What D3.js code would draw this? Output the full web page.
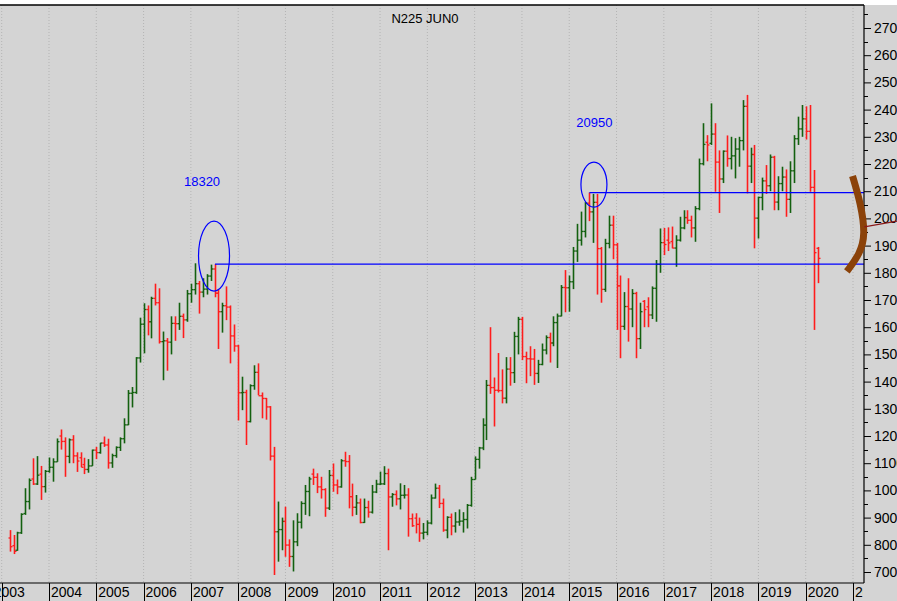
<!DOCTYPE html>
<html>
<head>
<meta charset="utf-8">
<script src="https://cdn.jsdelivr.net/npm/d3@7"></script>
<style>
  body { margin: 0; background: #fff; }
  text { font-family: "Liberation Sans", Arial, sans-serif; }
</style>
</head>
<body>
<div id="chart-area"></div>
<script>
// monthly bars, first bar is March 2003, last one April 2020
var firstYear = 2003, firstMonth = 2;

var open = [
  8250, 7970, 7800, 8440, 9150, 9590, 10420, 10235, 10600, 10140,
  10700, 10850, 11050, 12000, 11800, 11250, 11860, 11270, 11200, 10950, 10770, 10900,
  11480, 11390, 11740, 11670, 11010, 11280, 11580, 11900, 12410, 13570, 13600, 14870,
  16110, 16650, 16200, 17060, 16900, 15470, 15500, 15450, 16140, 16130, 16400, 16270,
  17230, 17380, 17600, 17290, 17400, 17880, 18140, 17250, 16570, 16790, 16740, 15680,
  15310, 13590, 13600, 12530, 13850, 14340, 13480, 13380, 13070, 11260, 8480, 8560,
  8860, 7990, 7570, 8110, 8830, 9520, 9960, 10600, 10480, 10130, 10030, 9350,
  10550, 10200, 10130, 11090, 11060, 9770, 9380, 9540, 8820, 9370, 9200, 9940,
  10230, 10240, 10620, 9760, 9850, 9690, 9820, 9830, 8960, 8980, 8750, 8430,
  8460, 8800, 9720, 10080, 9520, 8540, 9010, 8690, 8840, 8870, 8930, 9450,
  10400, 11140, 11560, 12400, 13860, 13780, 13680, 13670, 13390, 14460, 14330, 15660,
  16290, 14920, 14840, 14830, 14300, 14630, 15160, 15620, 15420, 16170, 16410, 17460,
  17450, 17670, 18800, 19200, 19520, 20560, 20240, 20590, 18890, 17390, 19080, 19750,
  19030, 17520, 16030, 16760, 16670, 17240, 15580, 16950, 16750, 16450, 17430, 18310,
  19110, 19200, 19150, 18910, 19200, 19650, 20030, 19930, 19650, 20360, 22010, 22800,
  22760, 23100, 22070, 21450, 22470, 22200, 22300, 22550, 22860, 24120, 21920, 22350,
  20010, 20770, 21380, 21200, 22250, 20600, 21280, 21520, 20700, 21750, 22930, 23290,
  23660, 23200, 21140, 18900
];
var high = [
  8540, 8360, 8480, 9160, 10080, 10440, 11180, 11260, 10900, 10750,
  11210, 11180, 11910, 12240, 11950, 11910, 12030, 11400, 11400, 11200, 11150, 11500,
  11600, 11750, 11980, 11900, 11350, 11620, 11950, 12650, 13690, 13800, 14900, 16350,
  16880, 16800, 17120, 17600, 17430, 15840, 15600, 16400, 16400, 16900, 16500, 17370,
  17600, 18350, 17700, 17800, 17950, 18300, 18320, 17400, 16900, 17500, 16800, 16100,
  15350, 14180, 13700, 13900, 14600, 14670, 13600, 13400, 13100, 11600, 9590, 9000,
  9400, 8200, 8900, 9160, 9600, 10200, 10500, 10800, 10630, 10500, 10080, 10750,
  10990, 10400, 11150, 11420, 11300, 10250, 9830, 9700, 9700, 9620, 10200, 10390,
  10690, 10890, 10800, 9900, 10000, 10260, 10200, 10080, 9150, 9160, 9000, 8800,
  8900, 9850, 10250, 10200, 9700, 9050, 9150, 9200, 9300, 9200, 9500, 10500,
  11250, 11600, 12650, 14060, 16000, 14150, 15050, 14450, 14900, 14900, 15830, 16380,
  16380, 15100, 15300, 15200, 14800, 15400, 15700, 15800, 16400, 16500, 17550, 18100,
  17900, 18950, 19800, 20250, 20600, 20950, 20900, 20900, 18950, 19250, 20100, 20100,
  19100, 17900, 17290, 17800, 17400, 17300, 16900, 17000, 17100, 17500, 18470, 19630,
  19650, 19670, 19700, 19380, 20060, 20300, 20300, 20100, 20450, 22200, 23500, 23060,
  24230, 23500, 22500, 22500, 23050, 23000, 22950, 23000, 24350, 24540, 22600, 22700,
  20800, 21500, 21960, 22350, 22300, 21550, 21900, 21800, 22100, 23060, 23740, 24170,
  24120, 24170, 21780, 18950
];
var low = [
  7750, 7660, 7780, 8400, 9100, 9300, 10200, 10200, 9650, 9920,
  10650, 10320, 11050, 11500, 10500, 11000, 11000, 10680, 10850, 10600, 10650, 10900,
  11150, 11350, 11600, 10800, 10830, 11200, 11450, 11730, 12400, 13050, 13550, 14700,
  15040, 15700, 15590, 16800, 15400, 14050, 14400, 15000, 15500, 15900, 15600, 16200,
  16900, 17200, 16500, 17100, 17200, 17700, 17100, 15200, 15800, 16260, 14670, 15100,
  12570, 12950, 11670, 12500, 13700, 13500, 12650, 12600, 11100, 6890, 7380, 7800,
  7560, 7190, 7020, 7950, 8600, 9100, 9050, 10200, 9900, 9700, 9030, 9280,
  9950, 9860, 10100, 10870, 9340, 9050, 9100, 8790, 8800, 9000, 9150, 9900,
  10200, 10200, 7800, 9400, 9450, 9300, 9700, 8300, 8660, 8420, 8110, 8200,
  8350, 8750, 9700, 9350, 8480, 8240, 8350, 8450, 8700, 8450, 8600, 9400,
  10400, 10800, 11480, 11850, 13550, 12350, 13600, 13200, 13200, 13850, 13950, 15000,
  14790, 13940, 14200, 13880, 13950, 14600, 15000, 14700, 15300, 14500, 16400, 16550,
  16570, 17400, 18400, 19000, 19300, 19900, 19100, 17200, 16900, 17300, 18900, 18500,
  15900, 14860, 15900, 15470, 16000, 14860, 15200, 16000, 16000, 16300, 16200, 18000,
  18650, 18800, 18900, 18220, 19150, 19600, 19800, 19300, 19140, 20300, 21950, 22100,
  22700, 20980, 20200, 21300, 21900, 21800, 21470, 21900, 22500, 20920, 21300, 18900,
  19260, 20300, 20900, 21000, 20300, 20300, 21000, 20060, 20200, 21300, 22700, 23000,
  22900, 20980, 15900, 17620
];
var close = [
  7930, 7760, 8440, 9120, 9590, 10370, 10235, 10560, 10140, 10700,
  10850, 11050, 11790, 11800, 11250, 11860, 11270, 11080, 10850, 10770, 10900, 11480,
  11390, 11740, 11670, 11010, 11280, 11580, 11900, 12410, 13570, 13600, 14870, 16110,
  16650, 16200, 17060, 16900, 15470, 15500, 15450, 16140, 16130, 16400, 16270, 17230,
  17380, 17600, 17290, 17400, 17880, 18140, 17250, 16570, 16790, 16740, 15680, 15310,
  13590, 13600, 12530, 13850, 14340, 13480, 13380, 13070, 11260, 8480, 8560, 8860,
  7990, 7570, 8110, 8830, 9520, 9960, 10420, 10480, 10130, 10030, 9350, 10550,
  10200, 10130, 11090, 11060, 9770, 9380, 9540, 8820, 9370, 9200, 9940, 10230,
  10240, 10620, 9760, 9850, 9690, 9820, 9830, 8960, 8700, 8750, 8430, 8460,
  8800, 9720, 10080, 9520, 8540, 9010, 8690, 8840, 8870, 8930, 9450, 10400,
  11140, 11560, 12400, 13860, 13780, 13680, 13670, 13390, 14460, 14330, 15660, 16290,
  14920, 14840, 14830, 14300, 14630, 15160, 15620, 15420, 16170, 16410, 17460, 17450,
  17670, 18800, 19200, 19520, 20560, 20240, 20590, 18890, 17390, 19080, 19750, 19030,
  17520, 16030, 16760, 16670, 17240, 15580, 16570, 16650, 16450, 17430, 18310, 19110,
  19040, 19100, 18910, 19200, 19650, 20030, 19930, 19650, 20360, 22010, 22720, 22700,
  23100, 22070, 21450, 22470, 22200, 22300, 22550, 22860, 24120, 21920, 22350, 20010,
  20770, 21380, 21200, 22250, 20600, 21280, 21520, 20700, 21750, 22930, 23290, 23660,
  23200, 21140, 18740, 18530
];

// axis labels
var years = [2003, 2004, 2005, 2006, 2007, 2008, 2009, 2010, 2011, 2012,
             2013, 2014, 2015, 2016, 2017, 2018, 2019, 2020, 2021];
var priceTicks = [7000, 8000, 9000, 10000, 11000, 12000, 13000, 14000, 15000, 16000, 17000,
                  18000, 19000, 20000, 21000, 22000, 23000, 24000, 25000, 26000, 27000];

// marked peaks: [year, month index, level]
var peaks = [[2007, 6, 18320], [2015, 5, 20950]];
// the brown bracket, [fractional year, price]
var bracket = [[2020.99, 21560], [2021.17, 20500], [2021.26, 19400], [2021.15, 18700], [2020.87, 18050]];
// dark red line leaving to the right
var trendLine = [[2021.24, 19690], [2021.93, 19900]];

var W = 897, H = 601;
var plotRight = 864, plotTop = 5, plotBottom = 583;

var svg = d3.select("#chart-area").append("svg")
    .attr("width", W)
    .attr("height", H);

svg.append("rect")
    .attr("x", 0).attr("y", plotTop)
    .attr("width", W).attr("height", H - plotTop)
    .attr("fill", "#d4d4d4");

// the year strip is cut at the price axis
svg.append("clipPath").attr("id", "yearClip")
    .append("rect")
    .attr("x", 0).attr("y", plotBottom)
    .attr("width", plotRight - 1).attr("height", H - plotBottom);

var x = d3.scaleLinear().domain([2003, 2021]).range([1.7, 853]);
var y = d3.scaleLinear().domain([7000, 27000]).range([572, 28]);

var bars = open.map(function (o, i) {
    var m = firstMonth + i;
    return {
        t: firstYear + Math.floor(m / 12) + (m % 12) / 12,
        o: o, h: high[i], l: low[i], c: close[i]
    };
});

// dotted year grid
svg.append("g").selectAll("line")
    .data(years)
    .enter().append("line")
    .attr("x1", function (d) { return x(d); })
    .attr("x2", function (d) { return x(d); })
    .attr("y1", plotTop).attr("y2", plotBottom)
    .attr("stroke", "#b4b4b4")
    .attr("stroke-dasharray", "1,2");

// top border
svg.append("line")
    .attr("x1", 0).attr("x2", plotRight)
    .attr("y1", plotTop).attr("y2", plotTop)
    .attr("stroke", "#000").attr("stroke-width", 1.5);

// title
svg.append("text")
    .attr("x", 425).attr("y", 23)
    .attr("text-anchor", "middle")
    .style("font-size", "13px")
    .text("N225 JUN0");

// OHLC bars
var barG = svg.append("g");
bars.forEach(function (d) {
    var col = d.c >= d.o ? "#13600f" : "#ff1c1c";
    var bx = Math.round(x(d.t)) + 0.5;
    barG.append("line")
        .attr("x1", bx).attr("x2", bx)
        .attr("y1", y(d.h)).attr("y2", y(d.l))
        .attr("stroke", col).attr("stroke-width", 1.6);
    barG.append("line")
        .attr("x1", bx - 2).attr("x2", bx)
        .attr("y1", y(d.o)).attr("y2", y(d.o))
        .attr("stroke", col).attr("stroke-width", 1.3);
    barG.append("line")
        .attr("x1", bx).attr("x2", bx + 2)
        .attr("y1", y(d.c)).attr("y2", y(d.c))
        .attr("stroke", col).attr("stroke-width", 1.3);
});

// peak annotations
peaks.forEach(function (p, k) {
    var px = x(p[0] + p[1] / 12) + 0.5;
    var py = y(p[2]);
    svg.append("line")
        .attr("x1", px).attr("x2", plotRight)
        .attr("y1", py).attr("y2", py)
        .attr("stroke", "#0000ff").attr("stroke-width", 1.2);
    var rx = k == 0 ? 15.5 : 13;
    var ry = k == 0 ? 35 : 22.5;
    var cy = py - 8;
    svg.append("ellipse")
        .attr("cx", k == 0 ? px - 1 : px + 4.5)
        .attr("cy", cy)
        .attr("rx", rx).attr("ry", ry)
        .attr("fill", "none")
        .attr("stroke", "#0000ff").attr("stroke-width", 1.2);
    svg.append("text")
        .attr("x", k == 0 ? px - 13 : px + 5)
        .attr("y", cy - ry - 35)
        .attr("text-anchor", "middle")
        .attr("fill", "#0000ff")
        .style("font-size", "13px")
        .text(p[2]);
});

// right axis (labels run past the page edge, as in the original)
var yAxis = svg.append("g")
    .attr("transform", "translate(" + plotRight + ",0)")
    .call(d3.axisRight(y).tickValues(priceTicks).tickSize(7).tickPadding(3)
        .tickFormat(d3.format("d")));
yAxis.select(".domain").remove();
yAxis.selectAll("text").style("font-size", "14px").attr("fill", "#000")
    .style("font-family", "Liberation Sans, Arial, sans-serif");
yAxis.selectAll("line").attr("stroke", "#000");

svg.append("g").selectAll("line")
    .data(priceTicks.map(function (v) { return v + 500; }))
    .enter().append("line")
    .attr("x1", plotRight).attr("x2", plotRight + 4)
    .attr("y1", function (d) { return Math.round(y(d)) + 0.5; })
    .attr("y2", function (d) { return Math.round(y(d)) + 0.5; })
    .attr("stroke", "#000");

svg.append("line")
    .attr("x1", plotRight).attr("x2", plotRight)
    .attr("y1", plotTop).attr("y2", plotBottom)
    .attr("stroke", "#000").attr("stroke-width", 1.2);

// bottom axis
svg.append("line")
    .attr("x1", 0).attr("x2", plotRight)
    .attr("y1", plotBottom).attr("y2", plotBottom)
    .attr("stroke", "#000").attr("stroke-width", 1.2);

var xAxis = svg.append("g").attr("clip-path", "url(#yearClip)");
xAxis.selectAll("line")
    .data(years)
    .enter().append("line")
    .attr("x1", function (d) { return Math.round(x(d)) + 0.5; })
    .attr("x2", function (d) { return Math.round(x(d)) + 0.5; })
    .attr("y1", plotBottom).attr("y2", H)
    .attr("stroke", "#000");
xAxis.selectAll("text")
    .data(years)
    .enter().append("text")
    // the first year label sits partly off the left edge
    .attr("x", function (d, i) { return i == 0 ? x(d) - 8 : x(d) + 2; })
    .attr("y", 597)
    .style("font-size", "14px")
    .text(function (d) { return d; });

// bracket and trend line on the right
svg.append("path")
    .datum(bracket)
    .attr("d", d3.line()
        .x(function (d) { return x(d[0]); })
        .y(function (d) { return y(d[1]); })
        .curve(d3.curveBasis))
    .attr("fill", "none")
    .attr("stroke", "#8b4209")
    .attr("stroke-width", 7);

svg.append("line")
    .attr("x1", x(trendLine[0][0])).attr("y1", y(trendLine[0][1]))
    .attr("x2", x(trendLine[1][0])).attr("y2", y(trendLine[1][1]))
    .attr("stroke", "#8b1a1a").attr("stroke-width", 1.2);
</script>
</body>
</html>
